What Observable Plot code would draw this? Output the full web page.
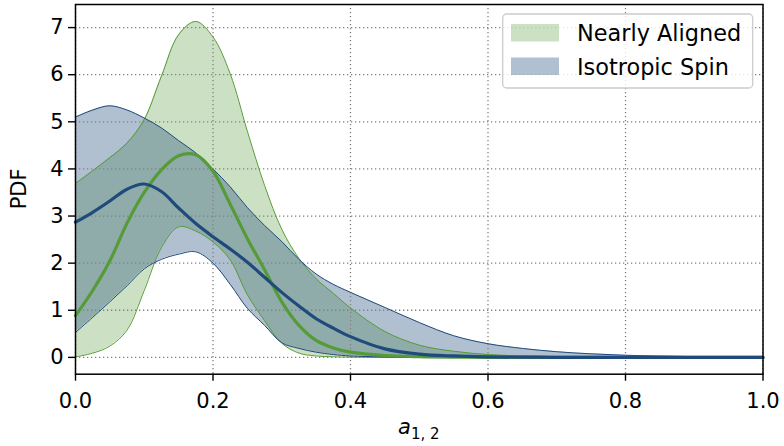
<!DOCTYPE html>
<html>
<head>
<meta charset="utf-8">
<script src="https://cdn.jsdelivr.net/npm/d3@7"></script>
<script src="https://cdn.jsdelivr.net/npm/@observablehq/plot@0.6"></script>
<style>
  html, body { margin: 0; padding: 0; background: #fff; }
  #chart svg { display: block; }
</style>
</head>
<body>
<div id="chart"></div>
<script>
// ---- data ----
const xs     = [0, 0.025, 0.05, 0.075, 0.1, 0.125, 0.15, 0.175, 0.2, 0.225, 0.25, 0.275, 0.3, 0.325, 0.35, 0.375, 0.4, 0.45, 0.5, 0.55, 0.6, 0.65, 0.7, 0.75, 0.8, 0.85, 0.9, 0.95, 1.0];
const naLow  = [0.01, 0.09, 0.24, 0.58, 1.42, 2.33, 2.77, 2.68, 2.45, 2.07, 1.33, 0.78, 0.30, 0.09, 0.03, 0.012, 0.005, 0, 0, 0, 0, 0, 0, 0, 0, 0, 0, 0, 0];
const naMed  = [0.885, 1.42, 2.05, 2.85, 3.5, 3.98, 4.28, 4.30, 3.95, 3.25, 2.52, 1.86, 1.18, 0.68, 0.36, 0.20, 0.11, 0.04, 0.015, 0.005, 0.002, 0, 0, 0, 0, 0, 0, 0, 0];
const naHigh = [3.69, 3.96, 4.24, 4.55, 5.05, 5.97, 6.85, 7.13, 6.80, 6.02, 4.80, 3.65, 2.72, 2.10, 1.67, 1.36, 1.05, 0.55, 0.26, 0.13, 0.06, 0.03, 0.015, 0.007, 0.003, 0.001, 0, 0, 0];
const isLow  = [0.53, 0.85, 1.18, 1.52, 1.88, 2.08, 2.19, 2.24, 2.0, 1.55, 1.04, 0.68, 0.31, 0.19, 0.11, 0.06, 0.03, 0.01, 0, 0, 0, 0, 0, 0, 0, 0, 0, 0, 0];
const isMed  = [2.87, 3.08, 3.32, 3.57, 3.68, 3.52, 3.17, 2.84, 2.56, 2.30, 2.02, 1.70, 1.38, 1.09, 0.82, 0.62, 0.44, 0.18, 0.07, 0.03, 0.012, 0.005, 0.002, 0, 0, 0, 0, 0, 0];
const isHigh = [5.10, 5.25, 5.34, 5.25, 5.08, 4.87, 4.60, 4.34, 4.00, 3.62, 3.18, 2.80, 2.46, 2.08, 1.77, 1.55, 1.38, 1.06, 0.74, 0.46, 0.29, 0.19, 0.12, 0.075, 0.045, 0.027, 0.016, 0.009, 0.005];

const seriesNames = ["Nearly Aligned", "Isotropic Spin"];
const xTicks = [0, 0.2, 0.4, 0.6, 0.8, 1.0];
const yTicks = [0, 1, 2, 3, 4, 5, 6, 7];
const xLabelMain = "a";
const xLabelSub = "1, 2";
const yLabel = "PDF";

// ---- styling ----
const GREEN = "#559b37";
const BLUE = "#1f4a7c";
const FILL_ALPHA_G = 0.3;
const FILL_ALPHA_B = 0.35;
const FONT = "DejaVu Sans, sans-serif";
const curve = "catmull-rom";

const rows = xs.map((x, i) => ({
  x, naLow: naLow[i], naMed: naMed[i], naHigh: naHigh[i],
  isLow: isLow[i], isMed: isMed[i], isHigh: isHigh[i]
}));

const W = 784, H = 446;
const mL = 75, mR = 21.5, mT = 4, mB = 72.3;

const chart = Plot.plot({
  width: W,
  height: H,
  marginLeft: mL,
  marginRight: mR,
  marginTop: mT,
  marginBottom: mB,
  style: { fontFamily: FONT, fontSize: "21px", color: "black", background: "white" },
  x: { domain: [0, 1] },
  y: { domain: [-0.357, 7.49] },
  marks: [
    Plot.areaY(rows, { x: "x", y1: "naLow", y2: "naHigh", fill: GREEN, fillOpacity: FILL_ALPHA_G, curve }),
    Plot.areaY(rows, { x: "x", y1: "isLow", y2: "isHigh", fill: BLUE, fillOpacity: FILL_ALPHA_B, curve }),
    Plot.gridX(xTicks, { stroke: "#808080", strokeOpacity: 1, strokeWidth: 1.3, strokeDasharray: "1.3,2.7" }),
    Plot.gridY(yTicks, { stroke: "#808080", strokeOpacity: 1, strokeWidth: 1.3, strokeDasharray: "1.3,2.7" }),
    Plot.line(rows, { x: "x", y: "naLow", stroke: GREEN, strokeWidth: 1, curve }),
    Plot.line(rows, { x: "x", y: "naHigh", stroke: GREEN, strokeWidth: 1, curve }),
    Plot.line(rows, { x: "x", y: "isLow", stroke: BLUE, strokeWidth: 1, curve }),
    Plot.line(rows, { x: "x", y: "isHigh", stroke: BLUE, strokeWidth: 1, curve }),
    Plot.line(rows, { x: "x", y: "naMed", stroke: GREEN, strokeWidth: 3.2, curve }),
    Plot.line(rows, { x: "x", y: "isMed", stroke: BLUE, strokeWidth: 3.2, curve }),
    Plot.axisX(xTicks, { tickFormat: d => d.toFixed(1), tickSize: 7, tickPadding: 12, strokeWidth: 1.4, fontSize: 21, label: null }),
    Plot.axisY(yTicks, { tickFormat: d => String(d), tickSize: 7, tickPadding: 5, strokeWidth: 1.4, fontSize: 21, label: null }),
    Plot.frame({ stroke: "black", strokeWidth: 1.5 })
  ]
});

document.getElementById("chart").appendChild(chart);

const svg = d3.select(chart);

// x label with subscript
const xl = svg.append("text")
  .attr("x", (mL + (W - mR)) / 2)
  .attr("y", 434)
  .attr("text-anchor", "middle")
  .attr("font-family", FONT)
  .attr("fill", "black");
xl.append("tspan").attr("font-style", "italic").attr("font-size", 21).text(xLabelMain);
xl.append("tspan").attr("font-size", 15).attr("dy", 5).text(xLabelSub);

// y label
svg.append("text")
  .attr("transform", `translate(26,${(mT + (H - mB)) / 2}) rotate(-90)`)
  .attr("text-anchor", "middle")
  .attr("font-family", FONT)
  .attr("font-size", 21)
  .attr("fill", "black")
  .text(yLabel);

// legend
const lg = svg.append("g").attr("text-anchor", "start");
lg.append("rect")
  .attr("x", 502.7).attr("y", 14).attr("width", 250).attr("height", 74)
  .attr("rx", 4).attr("ry", 4)
  .attr("fill", "white").attr("fill-opacity", 0.8)
  .attr("stroke", "#cccccc").attr("stroke-width", 1.3);
const legendItems = [
  { name: seriesNames[0], color: GREEN, alpha: FILL_ALPHA_G, y: 24 },
  { name: seriesNames[1], color: BLUE, alpha: FILL_ALPHA_B, y: 57.5 }
];
legendItems.forEach(it => {
  lg.append("rect")
    .attr("x", 511).attr("y", it.y).attr("width", 48).attr("height", 17.5)
    .attr("fill", it.color).attr("fill-opacity", it.alpha);
  lg.append("text")
    .attr("x", 577).attr("y", it.y + 17)
    .attr("text-anchor", "start")
    .attr("font-family", FONT).attr("font-size", 22.4).attr("fill", "black")
    .text(it.name);
});
</script>
</body>
</html>
